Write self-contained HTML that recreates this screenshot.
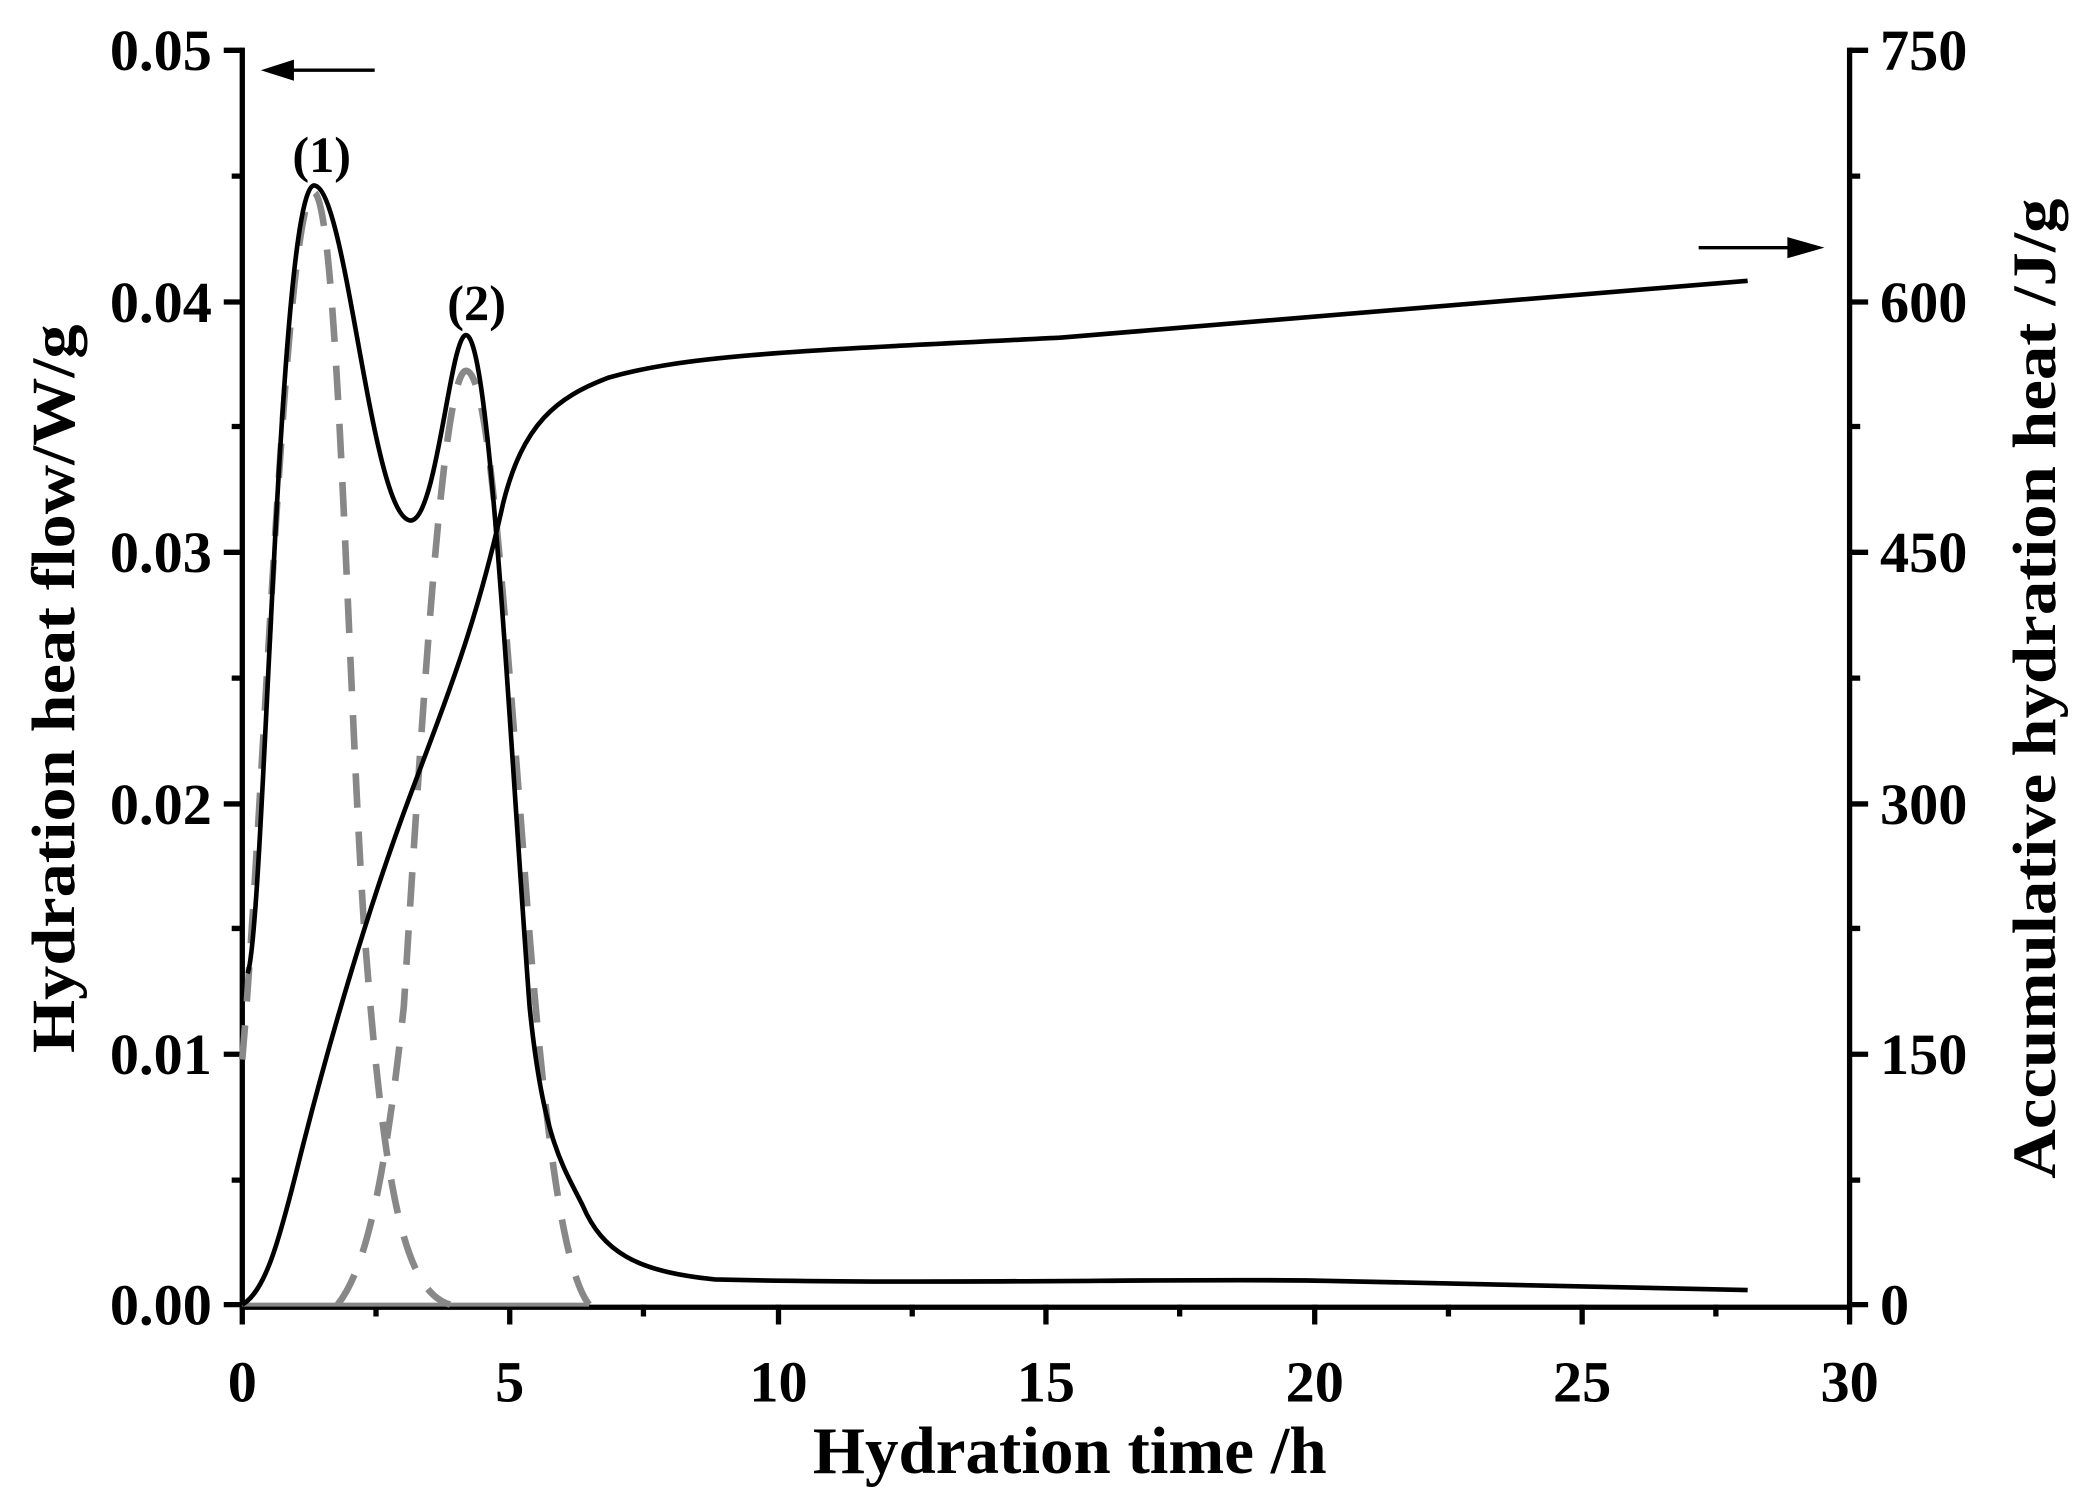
<!DOCTYPE html>
<html><head><style>html,body{margin:0;padding:0;background:#fff}svg{display:block}</style></head><body>
<svg width="2076" height="1494" viewBox="0 0 1568 1128" preserveAspectRatio="none" xmlns="http://www.w3.org/2000/svg" font-family="Liberation Serif, serif" font-weight="bold">
<g stroke="#000" stroke-width="4" fill="none">
<path d="M183,36 V987 H1397 M1397,36 V987"/>
<path d="M183,38 h-14 M183,228 h-14 M183,417 h-14 M183,607 h-14 M183,796 h-14 M183,985 h-14 M183,133 h-8 M183,322 h-8 M183,512 h-8 M183,701 h-8 M183,891 h-8"/>
<path d="M1397,38 h14 M1397,228 h14 M1397,417 h14 M1397,607 h14 M1397,796 h14 M1397,985 h14 M1397,133 h8 M1397,322 h8 M1397,512 h8 M1397,701 h8 M1397,891 h8"/>
<path d="M183,985 v15 M385,985 v15 M588,985 v15 M790,985 v15 M993,985 v15 M1195,985 v15 M1397,985 v15 M284,985 v9 M486,985 v9 M689,985 v9 M891,985 v9 M1094,985 v9 M1296,985 v9"/>
</g>
<g stroke="#888" stroke-width="5" fill="none" stroke-dasharray="26,18">
<path d="M183,800 C200,600 215,150 237,145 C255,150 262,500 275,700 C290,900 305,975 340,985"/>
<path d="M255,985 C275,960 290,900 305,760 C320,520 335,280 352,280 C368,280 378,420 395,640 C410,850 425,960 445,985"/>
</g>
<path d="M183,985 H445" stroke="#888" stroke-width="3"/>
<path d="M187,735 C200,700 210,145 237,140 C262,140 280,390 310,393 C330,393 340,253 352,253 C370,253 385,560 400,760 C410,860 425,880 440,910 C455,945 480,960 540,966 C700,970 900,965 1000,967 C1150,970 1250,972 1320,974" stroke="#000" stroke-width="3.5" fill="none"/>
<path d="M183,985 C200,975 210,940 225,880 C250,780 280,680 310,600 C340,520 360,470 380,380 C395,320 420,300 460,285 C520,268 600,265 800,255 C1000,240 1200,222 1320,212" stroke="#000" stroke-width="3.5" fill="none"/>
<path d="M283,53 H215" stroke="#000" stroke-width="2.5"/><polygon points="197,53 222,45 222,61" fill="#000"/>
<path d="M1283,187 H1355" stroke="#000" stroke-width="2.5"/><polygon points="1378,187 1350,179 1350,195" fill="#000"/>
<g font-size="38" text-anchor="middle">
<text x="243" y="130">(1)</text><text x="360" y="242">(2)</text>
</g>
<g font-size="44" text-anchor="end">
<text x="160" y="53">0.05</text><text x="160" y="243">0.04</text><text x="160" y="432">0.03</text><text x="160" y="622">0.02</text><text x="160" y="811">0.01</text><text x="160" y="1000">0.00</text>
</g>
<g font-size="44" text-anchor="start">
<text x="1420" y="53">750</text><text x="1420" y="243">600</text><text x="1420" y="432">450</text><text x="1420" y="622">300</text><text x="1420" y="811">150</text><text x="1420" y="1000">0</text>
</g>
<g font-size="44" text-anchor="middle">
<text x="183" y="1058">0</text><text x="385" y="1058">5</text><text x="588" y="1058">10</text><text x="790" y="1058">15</text><text x="993" y="1058">20</text><text x="1195" y="1058">25</text><text x="1397" y="1058">30</text>
</g>
<text x="808" y="1112" font-size="50" text-anchor="middle" textLength="388" lengthAdjust="spacingAndGlyphs">Hydration time /h</text>
<text transform="translate(56,520) rotate(-90)" font-size="46" text-anchor="middle" textLength="550" lengthAdjust="spacingAndGlyphs">Hydration heat flow/W/g</text>
<text transform="translate(1552,520) rotate(-90)" font-size="46" text-anchor="middle" textLength="740" lengthAdjust="spacingAndGlyphs">Accumulative hydration heat /J/g</text>
</svg>
</body></html>
